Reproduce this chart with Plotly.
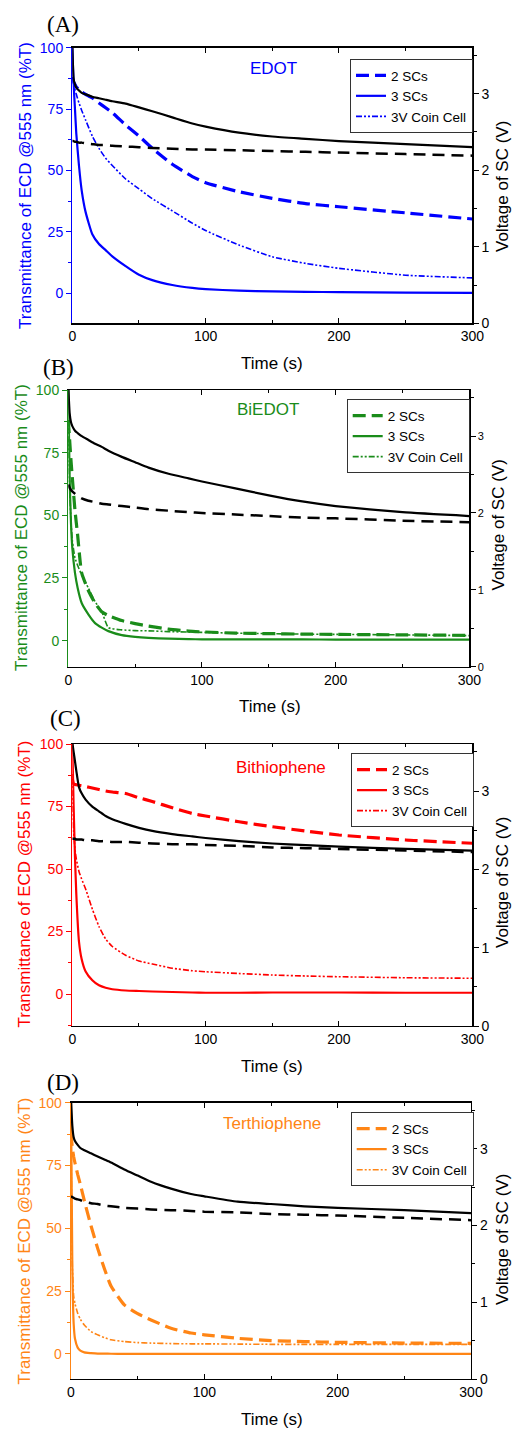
import plotly.graph_objects as go

# ---------------- data ----------------
T_GRID = [0, 1, 2, 3, 5, 7, 10, 15, 20, 25, 30, 40, 50, 60, 75, 90, 100, 125, 150, 175, 200, 250, 300]
X_TICKS = [0, 100, 200, 300]
LEFT_TICKS = [0, 25, 50, 75, 100]
RIGHT_TICKS = [0, 1, 2, 3]
SERIES_NAMES = ["2 SCs", "3 SCs", "3V Coin Cell"]
MATERIALS = ["EDOT", "BiEDOT", "Bithiophene", "Terthiophene"]
PANEL_LABELS = ["(A)", "(B)", "(C)", "(D)"]

# (A) EDOT
a_T_2sc = [88, 86, 85, 84, 83, 82, 81, 79.5, 77.5, 75.5, 73.5, 68.5, 64, 59, 52.5, 47.5, 45, 41.3, 38.6, 36.5, 35.2, 32.7, 30.2]
a_T_3sc = [100, 85, 75, 65, 52, 42, 33, 24, 20, 17.5, 15, 11, 7.5, 5.3, 3.3, 2.1, 1.6, 1.0, 0.7, 0.5, 0.4, 0.2, 0.1]
a_T_coin = [88, 86, 83, 81, 77.5, 74.5, 70.5, 64, 59, 55, 52, 46.5, 42.5, 38.5, 33.5, 28.5, 25.5, 19.6, 14.8, 12.1, 10.1, 7.3, 6.2]
a_V_3sc = [3.65, 3.19, 3.12, 3.08, 3.04, 3.01, 2.99, 2.96, 2.94, 2.92, 2.90, 2.87, 2.82, 2.77, 2.69, 2.61, 2.57, 2.49, 2.44, 2.41, 2.38, 2.34, 2.30]
a_V_2sc = [2.38, 2.38, 2.37, 2.37, 2.36, 2.36, 2.35, 2.34, 2.33, 2.33, 2.32, 2.31, 2.30, 2.29, 2.28, 2.27, 2.27, 2.26, 2.25, 2.24, 2.23, 2.21, 2.19]

# (B) BiEDOT
b_T_2sc = [88, 80, 72, 65, 52, 42, 27, 20, 15, 11.5, 10, 8, 6.8, 5.8, 4.6, 3.8, 3.5, 3.0, 2.8, 2.6, 2.5, 2.3, 2.1]
b_T_3sc = [100, 65, 47, 37, 27, 21, 15, 10.5, 7, 5.2, 3.8, 2.2, 1.5, 1.1, 0.8, 0.6, 0.5, 0.5, 0.5, 0.5, 0.4, 0.4, 0.4]
b_T_coin = [88, 62, 47.5, 40, 33, 30, 26.2, 21, 15.6, 11.6, 5.2, 4.3, 4.0, 3.9, 3.6, 3.4, 3.3, 3.0, 2.8, 2.6, 2.5, 2.3, 2.0]
b_V_3sc = [3.65, 3.3, 3.18, 3.13, 3.07, 3.04, 3.00, 2.95, 2.90, 2.86, 2.81, 2.73, 2.66, 2.59, 2.51, 2.45, 2.41, 2.32, 2.23, 2.15, 2.09, 2.01, 1.96]
b_V_2sc = [2.37, 2.33, 2.30, 2.28, 2.25, 2.22, 2.19, 2.16, 2.14, 2.12, 2.11, 2.09, 2.07, 2.05, 2.03, 2.01, 2.00, 1.98, 1.96, 1.94, 1.93, 1.90, 1.88]

# (C) Bithiophene
c_T_2sc = [86, 84, 83.8, 83.7, 83.5, 83.3, 83, 82.4, 81.8, 81.2, 80.8, 80.2, 78.5, 77, 74.5, 72.2, 71.2, 68.9, 66.9, 65.2, 63.6, 61.6, 60.3]
c_T_3sc = [100, 75, 55, 40, 21, 14, 9, 5.5, 3.5, 2.5, 1.9, 1.4, 1.2, 1.0, 0.8, 0.6, 0.5, 0.5, 0.6, 0.6, 0.6, 0.5, 0.5]
c_T_coin = [88, 65, 58, 54, 49, 46, 42, 34, 27, 22, 19, 15.5, 13.2, 12, 10.3, 9.3, 8.9, 8.2, 7.6, 7.2, 6.9, 6.5, 6.3]
c_V_3sc = [3.62, 3.5, 3.38, 3.26, 3.05, 2.97, 2.89, 2.80, 2.74, 2.68, 2.64, 2.58, 2.53, 2.49, 2.45, 2.42, 2.40, 2.36, 2.33, 2.31, 2.29, 2.26, 2.24]
c_V_2sc = [2.39, 2.39, 2.39, 2.38, 2.38, 2.38, 2.37, 2.37, 2.36, 2.36, 2.35, 2.35, 2.34, 2.33, 2.32, 2.32, 2.31, 2.30, 2.28, 2.27, 2.26, 2.24, 2.22]

# (D) Terthiophene
d_T_2sc = [88, 82, 78.5, 76, 71.5, 67.5, 61, 51, 42, 34, 27, 19.5, 16, 13.5, 10.2, 8.3, 7.6, 6.2, 5.3, 4.9, 4.6, 4.3, 4.2]
d_T_3sc = [100, 35, 12, 6, 2.5, 1.3, 0.6, 0.3, 0.1, 0.1, 0.05, 0, 0, 0, 0, 0, 0, 0, 0, 0, 0, 0, 0]
d_T_coin = [88, 35, 23, 20, 16.2, 13.8, 11.5, 8.9, 7.6, 6.5, 5.6, 4.9, 4.5, 4.3, 4.1, 4.0, 4.0, 3.9, 3.8, 3.8, 3.8, 3.8, 3.8]
d_V_3sc = [3.65, 3.3, 3.15, 3.10, 3.05, 3.01, 2.98, 2.94, 2.90, 2.86, 2.82, 2.73, 2.65, 2.57, 2.48, 2.41, 2.38, 2.31, 2.28, 2.25, 2.23, 2.20, 2.16]
d_V_2sc = [2.38, 2.37, 2.36, 2.35, 2.34, 2.33, 2.31, 2.29, 2.28, 2.26, 2.25, 2.23, 2.22, 2.21, 2.20, 2.19, 2.18, 2.17, 2.15, 2.14, 2.13, 2.10, 2.07]

COLORS = ["#0000FF", "#1A8C1A", "#FF0000", "#FF8515"]

panels = [
    (a_T_2sc, a_T_3sc, a_T_coin, a_V_3sc, a_V_2sc),
    (b_T_2sc, b_T_3sc, b_T_coin, b_V_3sc, b_V_2sc),
    (c_T_2sc, c_T_3sc, c_T_coin, c_V_3sc, c_V_2sc),
    (d_T_2sc, d_T_3sc, d_T_coin, d_V_3sc, d_V_2sc),
]

# ---------------- layout geometry (pixels of a 512 x 1429 page) ----------------
W, H = 512, 1429
# plot area: left, right, top, bottom
AREAS = [(72.3, 472.3, 47.7, 323.3), (68.3, 469.3, 390, 666.7),
         (72.3, 472.3, 744, 1026), (71, 471, 1102.7, 1379)]
LEFT_MIN = [-12.3, -10.4, -12.8, -10.0]
LEGEND_POS = [(350, 59), (346.7, 399.3), (351, 753.3), (350.7, 1112.3)]
MAT_POS = [(273, 68), (268, 410), (281, 767), (272, 1123)]
PLAB_POS = [(63, 25), (58, 368), (65, 718), (63, 1082)]
TIME_POS = [(272, 363), (270, 706), (272, 1066), (272, 1419)]
LTITLE_POS = [(25, 186), (21, 528), (23.5, 884), (23.5, 1241)]
RTITLE_POS = [(502, 187), (497.5, 525), (502, 883), (502, 1240)]
RTICK_SIZE = [14, 11, 14, 14]


def px(x):
    return x / W


def py(y):
    return 1 - y / H


FONT = "Liberation Sans, Arial, sans-serif"
fig = go.Figure()
annotations = []
layout = {}


def note(x, y, text, size, color, family=FONT, angle=0):
    annotations.append(dict(x=px(x), y=py(y), xref="paper", yref="paper", text=text,
                            xanchor="center", yanchor="middle", textangle=angle,
                            showarrow=False, font=dict(family=family, size=size, color=color)))


SMOOTH = dict(shape="spline", smoothing=0.5)

for i, (T2, T3, Tc, V3, V2) in enumerate(panels):
    col = COLORS[i]
    xn = "x" if i == 0 else f"x{i + 1}"
    yl = "y" if i == 0 else f"y{2 * i + 1}"
    yr = f"y{2 * i + 2}"
    leg = "legend" if i == 0 else f"legend{i + 1}"

    # voltage curves (black, right axis)
    fig.add_trace(go.Scatter(x=T_GRID, y=V3, xaxis=xn, yaxis=yr, mode="lines", showlegend=False,
                             line=dict(color="black", width=2.2, **SMOOTH)))
    fig.add_trace(go.Scatter(x=T_GRID, y=V2, xaxis=xn, yaxis=yr, mode="lines", showlegend=False,
                             line=dict(color="black", width=2.5, dash="12px,7px", **SMOOTH)))
    # transmittance curves (coloured, left axis)
    fig.add_trace(go.Scatter(x=T_GRID, y=T2, xaxis=xn, yaxis=yl, mode="lines", name=SERIES_NAMES[0],
                             legend=leg, line=dict(color=col, width=3.2, dash="13px,6px", **SMOOTH)))
    fig.add_trace(go.Scatter(x=T_GRID, y=T3, xaxis=xn, yaxis=yl, mode="lines", name=SERIES_NAMES[1],
                             legend=leg, line=dict(color=col, width=2.2, **SMOOTH)))
    fig.add_trace(go.Scatter(x=T_GRID, y=Tc, xaxis=xn, yaxis=yl, mode="lines", name=SERIES_NAMES[2],
                             legend=leg, line=dict(color=col, width=1.6, dash="6px,2px,2px,2px,2px,2px",
                                                   **SMOOTH)))

    l, r, t, b = AREAS[i]
    xdom = [px(l), px(r)]
    ydom = [py(b), py(t)]
    xkey = "xaxis" if i == 0 else f"xaxis{i + 1}"
    ylkey = "yaxis" if i == 0 else f"yaxis{2 * i + 1}"
    yrkey = f"yaxis{2 * i + 2}"

    layout[xkey] = dict(domain=xdom, anchor=yl, range=[0, 300], tickvals=X_TICKS, automargin=False,
                        ticks="inside", ticklen=5, tickwidth=1, tickcolor="black",
                        mirror="ticks", showline=True, linecolor="black", linewidth=1.3,
                        showgrid=False, zeroline=False,
                        minor=dict(dtick=50, tick0=0, ticks="inside", ticklen=3, tickcolor="black"),
                        tickfont=dict(family=FONT, size=14, color="black"))
    layout[ylkey] = dict(domain=ydom, anchor=xn, range=[LEFT_MIN[i], 100], tickvals=LEFT_TICKS,
                         automargin=False,
                         ticks="outside", ticklen=5, tickcolor=col, showline=True, linecolor=col,
                         linewidth=1.3, showgrid=False, zeroline=False,
                         minor=dict(dtick=12.5, tick0=0, ticks="outside", ticklen=3, tickcolor=col),
                         tickfont=dict(family=FONT, size=14, color=col))
    layout[yrkey] = dict(overlaying=yl, side="right", anchor=xn, range=[0, 3.6], tickvals=RIGHT_TICKS,
                         automargin=False,
                         ticks="outside", ticklen=5, tickcolor="black", showline=True,
                         linecolor="black", linewidth=1.3, showgrid=False, zeroline=False,
                         minor=dict(dtick=0.5, tick0=0, ticks="outside", ticklen=3, tickcolor="black"),
                         tickfont=dict(family=FONT, size=RTICK_SIZE[i], color="black"))
    lx, ly = LEGEND_POS[i]
    layout[leg] = dict(x=px(lx), y=py(ly), xanchor="left", yanchor="top", bgcolor="white",
                       bordercolor="#333333", borderwidth=1, itemwidth=30, tracegroupgap=0,
                       font=dict(family=FONT, size=13.5, color="black"))

    note(*MAT_POS[i], MATERIALS[i], 17, col)
    note(*PLAB_POS[i], PANEL_LABELS[i], 23, "black", family="Liberation Serif, Times New Roman, serif")
    note(*TIME_POS[i], "Time (s)", 17, "black")
    note(*LTITLE_POS[i], "Transmittance of ECD @555 nm (%T)", 17, col, angle=-90)
    note(*RTITLE_POS[i], "Voltage of SC (V)", 17, "black", angle=-90)

fig.update_layout(width=W, height=H, margin=dict(l=0, r=0, t=0, b=0, autoexpand=False),
                  paper_bgcolor="white", plot_bgcolor="white", hovermode=False,
                  annotations=annotations, **layout)

# remove the browser's default 8px page margin so the figure fills the 512x1429 window exactly
fig.write_html("out.html", config={"displayModeBar": False, "staticPlot": True},
               post_script="document.body.style.margin='0';document.body.style.overflow='hidden';")
